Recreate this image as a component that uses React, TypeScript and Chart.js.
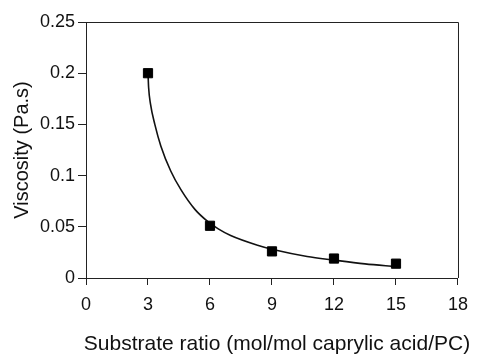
import React, { useEffect, useRef } from "react";
import { Chart, registerables } from "chart.js";

Chart.register(...registerables);

// Measured data (squares)
const ratios = [3, 6, 9, 12, 15];
const viscosity = [0.2, 0.051, 0.026, 0.019, 0.014];

// Fitted curve
const fitX = [3.0, 3.03, 3.12, 3.33, 3.62, 4.1, 4.6, 5.27, 5.9, 6.4, 7.0, 8.3, 9.1, 10.7, 12.0, 13.5, 15.0];
const fitY = [0.2, 0.186, 0.17, 0.15, 0.129, 0.1045, 0.086, 0.067, 0.055, 0.048, 0.0415, 0.032, 0.0275, 0.021, 0.0175, 0.0138, 0.011];

const xTicks = [0, 3, 6, 9, 12, 15, 18];
const yTickLabels = ["0", "0.05", "0.1", "0.15", "0.2", "0.25"];

const xTitle = "Substrate ratio (mol/mol caprylic acid/PC)";
const yTitle = "Viscosity (Pa.s)";

const FONT = "'Liberation Sans', Arial, Helvetica, sans-serif";

const frame = {
  id: "frame",
  afterDatasetsDraw(chart: any) {
    const { ctx, chartArea } = chart;
    ctx.save();
    ctx.strokeStyle = "#222";
    ctx.lineWidth = 1;
    ctx.beginPath();
    ctx.moveTo(chartArea.left, chartArea.top + 0.5);
    ctx.lineTo(chartArea.right + 0.5, chartArea.top + 0.5);
    ctx.lineTo(chartArea.right + 0.5, chartArea.bottom);
    ctx.stroke();
    ctx.restore();
  },
  afterDraw(chart: any) {
    // x-axis title drawn without Chart.js' maxWidth squeeze (it is wider than the plot)
    const { ctx, chartArea } = chart;
    ctx.save();
    ctx.fillStyle = "#111";
    ctx.font = `21px ${FONT}`;
    ctx.textAlign = "center";
    ctx.textBaseline = "middle";
    ctx.fillText(xTitle, (chartArea.left + chartArea.right) / 2 + 5, 344);
    ctx.restore();
  },
};

export default function App() {
  const ref = useRef<HTMLCanvasElement>(null);
  useEffect(() => {
    if (!ref.current) return;
    const chart = new Chart(ref.current, {
      type: "scatter",
      data: {
        datasets: [
          {
            type: "line",
            data: fitX.map((x, i) => ({ x, y: fitY[i] })),
            borderColor: "#111",
            borderWidth: 1.6,
            pointRadius: 0,
            cubicInterpolationMode: "monotone",
            fill: false,
            order: 2,
          } as any,
          {
            type: "scatter",
            data: ratios.map((x, i) => ({ x, y: viscosity[i] })),
            pointStyle: "rect",
            pointRadius: 6.5,
            backgroundColor: "#000",
            borderColor: "#000",
            borderWidth: 1,
            order: 1,
          },
        ],
      },
      options: {
        responsive: false,
        animation: false,
        devicePixelRatio: 1,
        layout: { padding: { top: 22, right: 13, left: 0, bottom: 0 } },
        plugins: { legend: { display: false }, tooltip: { enabled: false } },
        scales: {
          x: {
            type: "linear",
            min: 0,
            max: 18,
            afterFit: (s: any) => {
              s.height = 77;
            },
            afterBuildTicks: (s: any) => {
              s.ticks = xTicks.map((v) => ({ value: v }));
            },
            grid: { display: true, drawOnChartArea: false, drawTicks: true, tickLength: 7, color: "#222" },
            border: { display: true, color: "#222", width: 1 },
            ticks: { color: "#111", font: { family: FONT, size: 18 }, padding: 9, maxRotation: 0 },
            title: { display: false, text: xTitle },
          },
          y: {
            type: "linear",
            min: 0,
            max: 0.25,
            afterFit: (s: any) => {
              s.width = 86;
            },
            afterBuildTicks: (s: any) => {
              s.ticks = yTickLabels.map((t) => ({ value: parseFloat(t) }));
            },
            grid: { display: true, drawOnChartArea: false, drawTicks: true, tickLength: 8, color: "#222" },
            border: { display: true, color: "#222", width: 1 },
            ticks: {
              color: "#111",
              font: { family: FONT, size: 18 },
              padding: 3,
              callback: (v: any) => yTickLabels.find((t) => Math.abs(parseFloat(t) - v) < 1e-9) ?? "",
            },
            title: {
              display: true,
              text: yTitle,
              color: "#111",
              font: { family: FONT, size: 20, lineHeight: 1.2 },
              padding: { top: 10, bottom: 0 },
            },
          },
        },
      },
      plugins: [frame],
    });
    return () => chart.destroy();
  }, []);
  return (
    <div style={{ position: "absolute", left: 0, top: 0, width: 477, height: 355, background: "#fff" }}>
      <canvas ref={ref} width={477} height={355} />
    </div>
  );
}
